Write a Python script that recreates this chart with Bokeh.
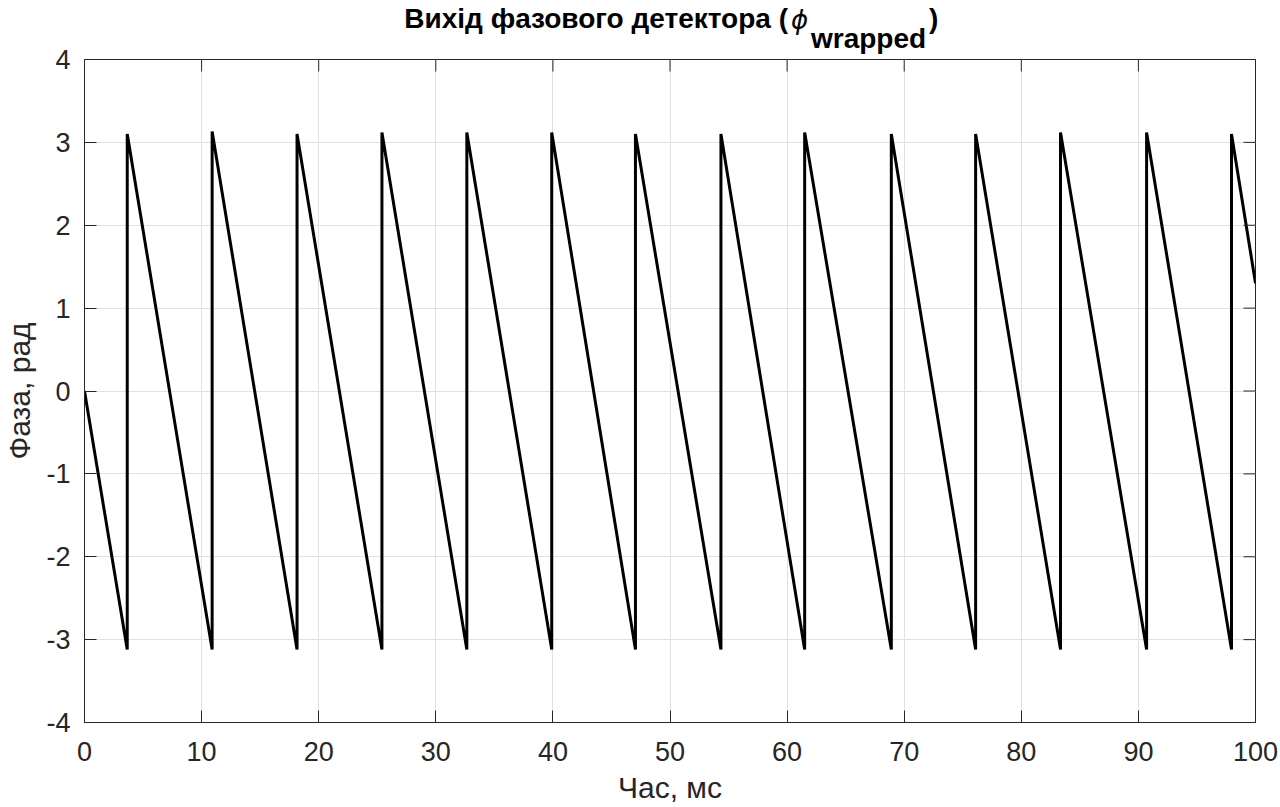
from bokeh.plotting import figure
from bokeh.models import Range1d, FixedTicker, Div
from bokeh.layouts import column
from bokeh.embed import file_html
from bokeh.resources import INLINE

# ---- data ----
wrap_t = [3.65, 10.9, 18.15, 25.4, 32.65, 39.9, 47.05, 54.35, 61.5, 68.9, 76.1, 83.35, 90.7, 97.95]
trough = [-3.12, -3.12, -3.12, -3.12, -3.12, -3.12, -3.12, -3.12, -3.12, -3.12, -3.12, -3.12, -3.12, -3.12]
peak = [3.1, 3.13, 3.1, 3.12, 3.12, 3.12, 3.1, 3.1, 3.12, 3.1, 3.1, 3.12, 3.12, 3.1]
start_t, start_phase = 0.0, 0.0
end_t, end_phase = 100.0, 1.3
x_ticks = [0, 10, 20, 30, 40, 50, 60, 70, 80, 90, 100]
y_ticks = [-4, -3, -2, -1, 0, 1, 2, 3, 4]

title_main = "Вихід фазового детектора ("
title_sym = "ϕ"
title_sub = "wrapped"
title_close = ")"
x_label = "Час, мс"
y_label = "Фаза, рад"

xs = [start_t]
ys = [start_phase]
for t, lo, hi in zip(wrap_t, trough, peak):
    xs += [t, t]
    ys += [lo, hi]
xs.append(end_t)
ys.append(end_phase)

TXT = "#262626"
FONT = "Liberation Sans"
X0, X1, Y0, Y1 = 0, 100, -4, 4

W = 1280
TH = 44                      # title strip height
FL, FR = 84, 1255            # frame left/right (px)
FRAME_H = 663
TOP_B = 59 - TH              # frame top lands at y = 59
BOT_B = 84
H = TOP_B + FRAME_H + BOT_B

# ---------------- title (HTML, allowed to overflow onto the plot border) ----------------
def span(txt, left=None, right=None, top=0, size=28, family=FONT, weight="bold", style="normal"):
    pos = f"left:{left}px;" if left is not None else f"right:{right}px;"
    return (f'<span style="position:absolute;{pos}top:{top}px;font-family:\'{family}\';'
            f'font-weight:{weight};font-style:{style};font-size:{size}px;line-height:{size}px;'
            f'white-space:nowrap;color:black;">{txt}</span>')

title_html = (
    f'<div style="position:relative;width:{W}px;height:{TH}px;">'
    + span(title_main, right=W - 788, top=5, size=28)
    + span(title_sym, left=791, top=7, size=26, family="DejaVu Sans", weight="normal", style="italic")
    + span(title_sub, left=811, top=25, size=28)
    + span(title_close, left=929, top=5, size=28)
    + '</div>'
)
title_div = Div(text=title_html, width=W, height=TH, margin=(0, 0, 0, 0),
                styles={"overflow": "visible", "z-index": "10"})

# ---------------- main plot ----------------
p = figure(width=W, height=H, x_range=Range1d(X0, X1), y_range=Range1d(Y0, Y1),
           output_backend="svg", toolbar_location=None,
           min_border_left=FL, min_border_right=W - FR,
           min_border_top=TOP_B, min_border_bottom=BOT_B)
p.background_fill_color = "white"
p.border_fill_color = None
p.outline_line_color = TXT
p.outline_line_width = 1

p.xgrid.ticker = FixedTicker(ticks=x_ticks)
p.ygrid.ticker = FixedTicker(ticks=y_ticks)
p.xgrid.grid_line_color = "#e1e1e1"
p.ygrid.grid_line_color = "#e1e1e1"

p.line(xs, ys, line_color="black", line_width=3.0, line_join="miter")

for ax in (p.xaxis[0], p.yaxis[0]):
    ax.major_tick_in = 12
    ax.major_tick_out = 0
    ax.minor_tick_in = 0
    ax.minor_tick_out = 0
    ax.axis_line_color = TXT
    ax.major_tick_line_color = TXT
    ax.major_label_text_color = TXT
    ax.major_label_text_font = FONT
    ax.major_label_text_font_size = "27px"
    ax.axis_label_text_color = TXT
    ax.axis_label_text_font = FONT
    ax.axis_label_text_font_size = "30px"
    ax.axis_label_text_font_style = "normal"

p.xaxis[0].ticker = FixedTicker(ticks=x_ticks)
p.yaxis[0].ticker = FixedTicker(ticks=y_ticks)
p.xaxis[0].major_label_overrides = {t: str(t) for t in x_ticks}
p.yaxis[0].major_label_overrides = {t: str(t) for t in y_ticks}
p.xaxis[0].axis_label = x_label
p.yaxis[0].axis_label = y_label
p.xaxis[0].major_label_standoff = 19
p.yaxis[0].major_label_standoff = 14
p.xaxis[0].axis_label_standoff = 7
p.yaxis[0].axis_label_standoff = 7

# ticks on the top and right frame edges (mirroring the axis ticks)
tick_dx = 12.0 / (FR - FL) * (X1 - X0)
tick_dy = 12.0 / FRAME_H * (Y1 - Y0)
p.segment(x0=x_ticks, y0=[Y1] * len(x_ticks), x1=x_ticks, y1=[Y1 - tick_dy] * len(x_ticks),
          line_color=TXT, line_width=1)
p.segment(x0=[X1] * len(y_ticks), y0=y_ticks, x1=[X1 - tick_dx] * len(y_ticks), y1=y_ticks,
          line_color=TXT, line_width=1)

layout = column(title_div, p, spacing=0)
open("out.html", "w").write(file_html(layout, INLINE))
